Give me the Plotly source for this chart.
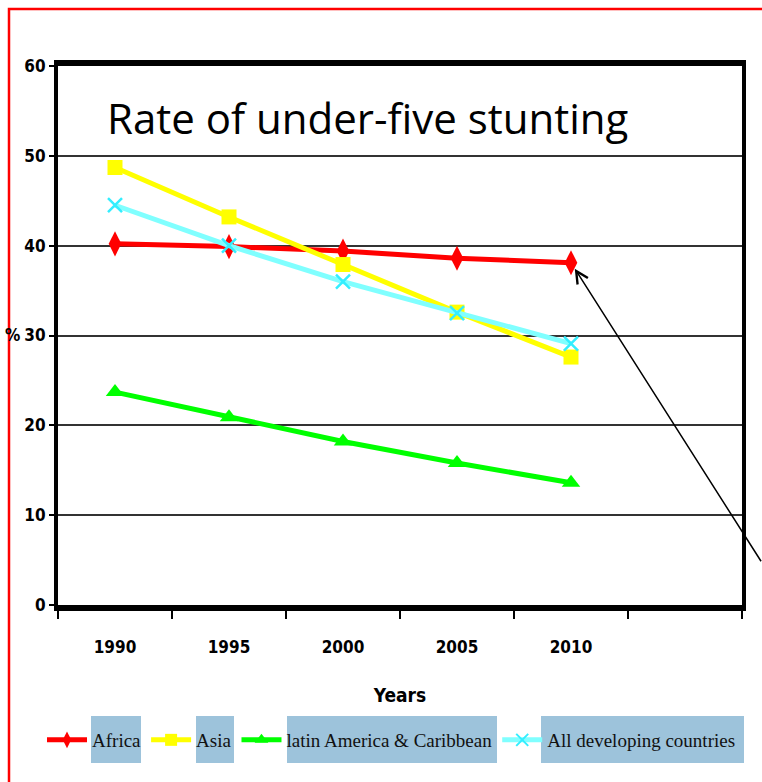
import plotly.graph_objects as go

# Under-five stunting rate (%) by region
years = [1990, 1995, 2000, 2005, 2010]
year_labels = ["1990", "1995", "2000", "2005", "2010"]
africa = [40.2, 39.9, 39.4, 38.6, 38.1]
asia = [48.7, 43.2, 37.9, 32.6, 27.6]
latin_america = [23.7, 20.9, 18.2, 15.8, 13.6]
all_developing = [44.5, 40.0, 36.0, 32.5, 29.1]
y_ticks = [0, 10, 20, 30, 40, 50, 60]

series_names = ["Africa", "Asia", "latin America & Caribbean", "All developing countries"]

AXIS_FONT = "DejaVu Sans Condensed, Liberation Sans Narrow, Arial Narrow, Liberation Sans, Arial, sans-serif"
LEGEND_FONT = "Liberation Serif, Times New Roman, serif"

fig = go.Figure()

styles = [
    dict(color="#FF0000", symbol="diamond-tall", size=18),
    dict(color="#FFFF00", symbol="square", size=15),
    dict(color="#00FF00", symbol="triangle-up", size=16),
    dict(color="#80FFFF", symbol="x-thin", size=14),
]
for name, vals, st in zip(series_names, [africa, asia, latin_america, all_developing], styles):
    marker = dict(symbol=st["symbol"], size=st["size"], color=st["color"])
    if st["symbol"] == "x-thin":
        marker["line"] = dict(color="#33EEFF", width=2.5)
    fig.add_trace(go.Scatter(
        x=years, y=vals, name=name, mode="lines+markers",
        line=dict(color=st["color"], width=5),
        marker=marker,
    ))

# plot-area pixel edges, used to place paper-referenced decorations
PLOT_L, PLOT_R, PLOT_T, PLOT_B = 58, 742, 66, 605
pw, ph = PLOT_R - PLOT_L, PLOT_B - PLOT_T


def px_x(p):
    return (p - PLOT_L) / pw


def px_y(p):
    return (PLOT_B - p) / ph


# label backgrounds behind each legend entry's text
legend_boxes = [(91, 141), (196, 234), (287, 497), (541, 744)]
shapes = []
for x0, x1 in legend_boxes:
    shapes.append(dict(
        type="rect", xref="paper", yref="paper", layer="above",
        x0=px_x(x0), x1=px_x(x1), y0=px_y(763), y1=px_y(716),
        fillcolor="#9DC3DB", line=dict(width=0),
    ))
# red outer frame
shapes.append(dict(
    type="rect", xref="paper", yref="paper", layer="above",
    x0=px_x(9), x1=px_x(790), y0=px_y(800), y1=px_y(9),
    line=dict(color="#FF0000", width=2.5), fillcolor="rgba(0,0,0,0)",
))

annotations = [
    dict(text="Rate of under-five stunting", xref="paper", yref="paper",
         x=px_x(105), y=px_y(117), xanchor="left", yanchor="middle",
         showarrow=False, font=dict(family="Open Sans, sans-serif", size=42, color="#000")),
    dict(text="%", xref="paper", yref="paper", x=px_x(12), y=px_y(335),
         xanchor="center", yanchor="middle", showarrow=False,
         font=dict(family=AXIS_FONT, size=17, color="#000", weight="bold")),
    dict(text="", xref="x", yref="y", x=years[-1], y=africa[-1],
         showarrow=True, arrowhead=5, arrowsize=1.6, arrowwidth=1.5, arrowcolor="#000",
         standoff=7, axref="pixel", ayref="pixel", ax=200, ay=300),
]

fig.update_layout(
    width=762, height=782,
    margin=dict(l=PLOT_L, r=762 - PLOT_R, t=PLOT_T, b=782 - PLOT_B),
    paper_bgcolor="white", plot_bgcolor="white",
    showlegend=True,
    legend=dict(
        orientation="h", x=px_x(42), y=px_y(740), xanchor="left", yanchor="middle",
        bgcolor="rgba(0,0,0,0)", itemwidth=40, itemsizing="constant",
        font=dict(family=LEGEND_FONT, size=19, color="#111"),
        traceorder="normal",
    ),
    xaxis=dict(
        range=[1987.5, 2017.5],
        tickmode="array", tickvals=years, ticktext=year_labels,
        ticks="outside", ticklen=22, tickcolor="rgba(0,0,0,0)",
        minor=dict(tickmode="array", tickvals=[1987.5 + 5 * k for k in range(7)],
                   ticks="outside", ticklen=8, tickwidth=1.5, tickcolor="#000", showgrid=False),
        showgrid=False, zeroline=False,
        showline=True, linewidth=6, linecolor="#000", mirror=True,
        tickfont=dict(family=AXIS_FONT, size=17, color="#000", weight="bold"),
        title=dict(text="Years", standoff=34,
                   font=dict(family=AXIS_FONT, size=19, color="#000", weight="bold")),
    ),
    yaxis=dict(
        range=[0, 60], tickmode="array", tickvals=y_ticks,
        ticks="outside", ticklen=5, tickwidth=1.5, tickcolor="#000",
        showgrid=True, gridcolor="#333", gridwidth=1.5, zeroline=False,
        showline=True, linewidth=4, linecolor="#000", mirror=True,
        tickfont=dict(family=AXIS_FONT, size=17, color="#000", weight="bold"),
    ),
    shapes=shapes,
    annotations=annotations,
)

fig.write_html("out.html")
